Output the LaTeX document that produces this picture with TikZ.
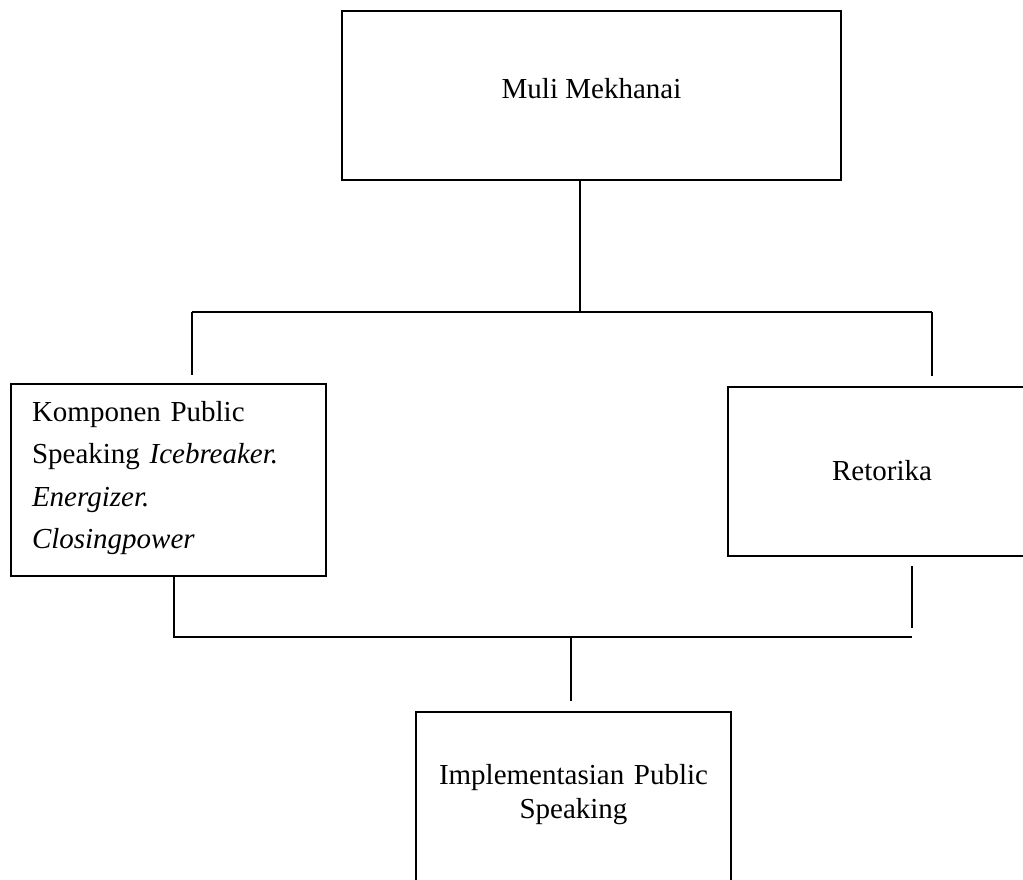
\documentclass[tikz,border=0pt]{standalone}
\usepackage{fontspec}
\setmainfont{Liberation Serif}
\tikzset{
  boxnode/.style={draw, line width=2pt, inner sep=0pt, font=\fontsize{29pt}{34pt}\selectfont},
  conn/.style={line width=1.7pt}
}
\begin{document}
\begin{tikzpicture}[x=1pt,y=-1pt]
\useasboundingbox (0,0) rectangle (1023,879);
\clip (0,0) rectangle (1023,879);
\node[boxnode, minimum width=499pt, minimum height=169pt, text height=20pt, text depth=15pt] (top) at (591.5,95.5) {Muli Mekhanai};
\node[boxnode, minimum width=315pt, minimum height=192pt, text width=273pt, align=left, text height=20pt, text depth=138pt, font=\fontsize{29pt}{42.5pt}\selectfont] (left) at (168.5,480) {Komponen Public\\Speaking \textit{Icebreaker.}\\\textit{Energizer.}\\\textit{Closingpower}};
\node[boxnode, minimum width=308pt, minimum height=169pt, text height=20pt, text depth=3pt] (right) at (882,471.5) {Retorika};
\node[boxnode, minimum width=315pt, minimum height=180pt, text width=300pt, align=center, text height=20pt, text depth=56pt] (bottom) at (573.5,802) {Implementasian Public\\Speaking};
\coordinate (jt) at (580,312);
\coordinate (jl) at (192,312);
\coordinate (jr) at (932,312);
\coordinate (el) at (192,375);
\coordinate (er) at (932,376);
\draw[conn] (top.south -| jt) -- (jt);
\draw[conn] (jl) -- (jr);
\draw[conn] (jl) -- (el);
\draw[conn] (jr) -- (er);
\coordinate (kl) at (174,637);
\coordinate (kr) at (912,637);
\coordinate (kc) at (571,637);
\coordinate (kb) at (571,701);
\coordinate (rs) at (912,566);
\coordinate (re) at (912,628);
\draw[conn] (left.south -| kl) -- (kl) -- (kr);
\draw[conn] (rs) -- (re);
\draw[conn] (kc) -- (kb);
\end{tikzpicture}
\end{document}
